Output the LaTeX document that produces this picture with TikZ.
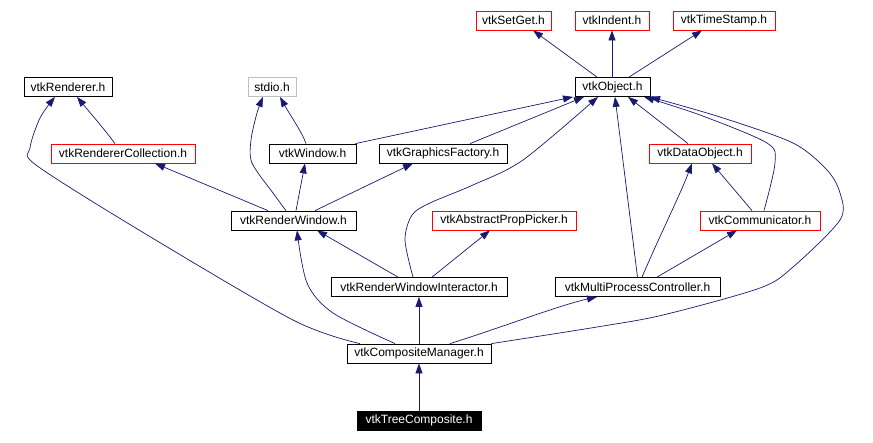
\documentclass[tikz,border=0pt]{standalone}
\usepackage{fontspec}
\setmainfont{Liberation Sans}
\usetikzlibrary{arrows.meta}
\definecolor{edgeblue}{RGB}{25,25,112}
\definecolor{boxgrey}{RGB}{191,191,191}
\begin{document}
\begin{tikzpicture}[x=1pt,y=-1pt,
 box/.style={draw=black,line width=0.8pt,minimum height=19pt,inner sep=0pt,font=\fontsize{12}{14}\selectfont,fill=white},
 redbox/.style={box,draw=red},
 greybox/.style={box,draw=boxgrey},
 darkbox/.style={box,fill=black,text=white},
 edge/.style={draw=edgeblue,line width=0.7pt,-{Triangle[length=10pt,width=7pt]}}]
\useasboundingbox (0,0) rectangle (873,442);
\node[redbox,minimum width=75pt] (setget) at (513.5,20.5) {vtkSetGet.h};
\node[redbox,minimum width=74pt] (indent) at (612,20.5) {vtkIndent.h};
\node[redbox,minimum width=102pt] (timestamp) at (724,20.5) {vtkTimeStamp.h};
\node[box,minimum width=88pt] (renderer) at (68,87) {vtkRenderer.h};
\node[greybox,minimum width=48pt] (stdio) at (272,87) {stdio.h};
\node[box,minimum width=75pt] (object) at (612.5,87) {vtkObject.h};
\node[redbox,minimum width=144pt] (rencoll) at (123,153.5) {vtkRendererCollection.h};
\node[box,minimum width=87pt] (window) at (312.5,153.5) {vtkWindow.h};
\node[box,minimum width=128pt] (gfactory) at (443,153.5) {vtkGraphicsFactory.h};
\node[redbox,minimum width=102pt] (dataobj) at (700,153.5) {vtkDataObject.h};
\node[box,minimum width=125pt] (renwin) at (293.5,220.5) {vtkRenderWindow.h};
\node[redbox,minimum width=144pt] (picker) at (504,220.5) {vtkAbstractPropPicker.h};
\node[redbox,minimum width=120pt] (comm) at (760,220.5) {vtkCommunicator.h};
\node[box,minimum width=176pt] (rwi) at (419,287) {vtkRenderWindowInteractor.h};
\node[box,minimum width=165pt] (mpc) at (637.5,287) {vtkMultiProcessController.h};
\node[box,minimum width=144pt] (cm) at (419,353.5) {vtkCompositeManager.h};
\node[darkbox,minimum width=124pt] (tree) at (419,420.5) {vtkTreeComposite.h};

\draw[edge] ([xshift=-8pt]rencoll.north) .. controls (105,130) and (92,115) .. ([xshift=9pt]renderer.south);
\draw[edge] plot[smooth,tension=0.5] coordinates {([xshift=-59pt]cm.north) (293,320) (139,230) (36,165) (30,148) (40,118) ([xshift=-13pt]renderer.south)};
\draw[edge] ([xshift=-25.5pt]renwin.north) -- ([xshift=32pt]rencoll.south);
\draw[edge] plot[smooth] coordinates {([xshift=-7.5pt]renwin.north) (273,193) (252,163) (251,140) (257,113) ([xshift=-9pt]stdio.south)};
\draw[edge] ([xshift=-6.5pt]window.north) .. controls (302,132) and (290,115) .. ([xshift=8pt]stdio.south);
\draw[edge] ([xshift=2.5pt]renwin.north) -- ([xshift=-7.5pt]window.south);
\draw[edge] ([xshift=21.5pt]renwin.north) -- ([xshift=-30pt]gfactory.south);
\draw[edge] ([xshift=-1pt]window.north east) -- ([xshift=-39.5pt]object.south);
\draw[edge] ([xshift=27pt]gfactory.north) -- ([xshift=-28.5pt]object.south);
\draw[edge] plot[smooth] coordinates {([xshift=-6pt]rwi.north) (405,240) (412,215) (430,203) (473,185) (523,160) ([xshift=-14.5pt]object.south)};
\draw[edge] (mpc.north) -- ([xshift=2.5pt]object.south);
\draw[edge] ([xshift=-12pt]dataobj.north) -- ([xshift=15.5pt]object.south);
\draw[edge] plot[smooth] coordinates {([xshift=4pt]comm.north) (775,163) (767,143) (700,115) ([xshift=31.5pt]object.south)};
\draw[edge] plot[smooth] coordinates {(cm.north east) (597,327) (663,315) (760,288) (793,267) (840,220) (840,193) (827,170) (793,143) (720,117) ([xshift=37.5pt]object.south)};
\draw[edge] ([xshift=4.5pt]mpc.north) .. controls (660,235) and (680,195) .. ([xshift=-8pt]dataobj.south);
\draw[edge] ([xshift=19.5pt]mpc.north) -- ([xshift=-23pt]comm.south);
\draw[edge] ([xshift=-8pt]comm.north) -- ([xshift=12pt]dataobj.south);
\draw[edge] ([xshift=-15.5pt]object.north) -- ([xshift=19.5pt]setget.south);
\draw[edge] (indent.south |- object.north) -- (indent.south);
\draw[edge] ([xshift=16.5pt]object.north) -- ([xshift=-22pt]timestamp.south);
\draw[edge] ([xshift=-21pt]rwi.north) -- ([xshift=23.5pt]renwin.south);
\draw[edge] ([xshift=13pt]rwi.north) -- ([xshift=-14pt]picker.south);
\draw[edge] plot[smooth] coordinates {([xshift=-24pt]cm.north) (333,313) (307,283) ([xshift=3.5pt]renwin.south)};
\draw[edge] (cm.north) -- (rwi.south);
\draw[edge] ([xshift=31pt]cm.north) .. controls (500,328) and (560,305) .. ([xshift=-40.5pt]mpc.south);
\draw[edge] (tree.north) -- (cm.south);
\end{tikzpicture}
\end{document}
